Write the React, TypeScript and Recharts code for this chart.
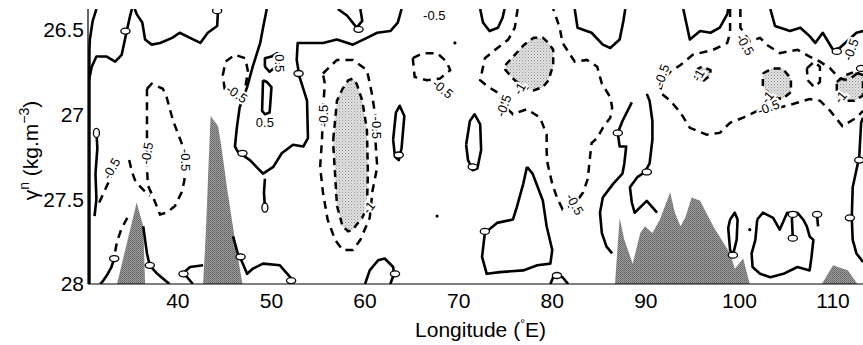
import { ComposedChart, XAxis, YAxis, Line, Area, Scatter } from "recharts";

type Pt = [number, number];
type Band = [number, number, number]; // lon, upper gamma, lower gamma
type Tag = [number, number, number]; // lon, gamma, angle

const lonTicks = [40, 50, 60, 70, 80, 90, 100, 110];
const gammaTicks = [26.5, 27, 27.5, 28];
const lonDomain: Pt = [30.4, 113.2];
const gammaDomain: Pt = [26.38, 28];

// zero contour (solid)
const zeroEdge: Pt[] = [[31.3, 26.38], [30.9, 26.45], [30.6, 26.56], [30.55, 26.62], [30.55, 28]];
const zeroA: Pt[] = [[30.5, 26.8], [30.8, 26.72], [31.3, 26.66], [32.4, 26.66], [33.3, 26.69], [34.0, 26.65], [34.5, 26.52], [34.9, 26.42], [35.1, 26.38]];
const zeroB: Pt[] = [[35.4, 26.38], [35.6, 26.41], [36.2, 26.46], [36.5, 26.56], [37.2, 26.59], [38.1, 26.58], [39.4, 26.55], [40.2, 26.52], [41.3, 26.55], [42.4, 26.58], [43.2, 26.52], [44.2, 26.48], [44.3, 26.38]];
const zeroC: Pt[] = [[49.5, 26.38], [49.1, 26.49], [48.8, 26.58], [48.0, 26.72], [47.4, 26.84], [46.6, 26.96], [46.3, 27.08], [46.1, 27.19], [46.4, 27.22], [46.9, 27.24], [47.7, 27.27], [49.1, 27.35], [50.2, 27.31], [51.1, 27.23], [52.3, 27.18], [53.4, 27.19], [53.9, 27.14], [53.8, 26.92], [53.0, 26.78], [52.7, 26.68], [52.8, 26.58], [54.1, 26.58], [55.5, 26.58], [57.0, 26.56], [58.7, 26.59], [60.2, 26.55], [61.3, 26.52], [62.7, 26.51], [63.5, 26.46], [63.9, 26.38]];
const zeroD: Pt[] = [[57.1, 26.38], [58.1, 26.42], [59.1, 26.49], [59.7, 26.45], [59.5, 26.38]];
const zeroE: Pt[] = [[49.3, 26.72], [49.3, 26.67], [50.0, 26.66], [50.6, 26.64], [50.9, 26.65], [50.7, 26.71], [49.8, 26.75], [49.3, 26.72]];
const zeroF: Pt[] = [[49.1, 26.8], [49.5, 26.81], [50.0, 26.84], [49.9, 26.92], [49.8, 26.99], [49.3, 27.0], [49.0, 26.98], [49.1, 26.8]];
const zeroG: Pt[] = [[49.3, 27.38], [49.2, 27.46], [49.3, 27.55]];
const zeroH: Pt[] = [[63.0, 27.15], [63.3, 26.99], [63.7, 26.95], [64.2, 27.01], [63.9, 27.2], [63.6, 27.27], [63.2, 27.25], [63.0, 27.15]];
const zeroI: Pt[] = [[70.8, 27.18], [71.2, 27.04], [71.7, 27.0], [72.3, 27.06], [72.4, 27.21], [72.0, 27.32], [71.5, 27.33], [71.0, 27.27], [70.8, 27.18]];
const zeroJ: Pt[] = [[72.3, 26.38], [72.6, 26.46], [73.3, 26.51], [74.2, 26.49], [74.7, 26.43], [74.9, 26.38]];
const zeroK: Pt[] = [[82.4, 26.38], [82.7, 26.49], [84.2, 26.52], [85.4, 26.59], [86.2, 26.61], [87.2, 26.56], [87.6, 26.45], [87.8, 26.38]];
const zeroL: Pt[] = [[88.5, 26.93], [87.5, 27.04], [87.0, 27.11], [87.2, 27.19], [87.9, 27.19], [87.7, 27.29], [87.5, 27.35], [86.5, 27.41], [85.4, 27.49], [85.1, 27.58], [85.3, 27.7], [85.8, 27.78], [86.4, 27.82]];
const zeroM: Pt[] = [[90.1, 26.88], [90.4, 26.92], [90.7, 27.04], [90.7, 27.15], [90.4, 27.29], [89.9, 27.34], [89.1, 27.37], [88.3, 27.43], [88.5, 27.52], [88.8, 27.58], [90.1, 27.51], [91.2, 27.58]];
const zeroN: Pt[] = [[94.0, 26.38], [94.7, 26.56], [95.8, 26.51], [96.9, 26.52], [97.9, 26.49], [98.7, 26.41], [98.8, 26.38]];
const zeroO: Pt[] = [[103.3, 26.38], [103.8, 26.48], [105.4, 26.51], [106.5, 26.49], [107.5, 26.54], [108.1, 26.58], [108.9, 26.52], [110.0, 26.62], [110.7, 26.61], [111.3, 26.58], [112.5, 26.52], [113.2, 26.51]];
const zeroP: Pt[] = [[113.2, 27.02], [113.0, 27.05], [112.8, 27.25], [112.1, 27.43], [112.0, 27.61], [112.1, 27.74], [112.5, 27.82], [113.2, 27.87]];
const zeroQ: Pt[] = [[77.3, 27.31], [77.9, 27.35], [79.0, 27.51], [79.4, 27.66], [80.0, 27.8], [79.8, 27.88], [78.4, 27.89], [76.9, 27.92], [74.4, 27.93], [73.0, 27.94], [72.5, 27.84], [72.8, 27.7], [74.1, 27.64], [75.8, 27.62], [76.2, 27.55], [76.9, 27.41], [77.3, 27.31]];
const zeroR: Pt[] = [[79.8, 28], [80.1, 27.96], [80.6, 27.95], [81.1, 27.96], [81.7, 28]];
const zeroS: Pt[] = [[60.0, 28], [60.5, 27.92], [61.4, 27.86], [62.1, 27.85], [63.0, 27.9], [63.1, 27.94], [62.7, 28]];
const zeroT: Pt[] = [[45.9, 27.72], [46.4, 27.82], [46.7, 27.85], [47.4, 27.94], [48.0, 27.91], [49.1, 27.88], [50.9, 27.89], [52.0, 27.96], [52.2, 28]];
const zeroU: Pt[] = [[36.3, 27.66], [36.7, 27.82], [37.0, 27.89], [37.8, 27.94], [39.1, 28]];
const zeroV: Pt[] = [[41.6, 28], [41.0, 27.96], [40.5, 27.94], [41.3, 27.9], [42.7, 27.89]];
const zeroW: Pt[] = [[33.2, 27.85], [32.9, 27.9], [32.4, 27.95], [31.9, 27.99], [31.7, 28]];
const zeroX: Pt[] = [[101.9, 27.62], [102.5, 27.58], [103.6, 27.61], [104.3, 27.68], [105.1, 27.58], [106.2, 27.58], [106.8, 27.62], [107.2, 27.66], [107.5, 27.72], [107.9, 27.74], [107.7, 27.84], [107.5, 27.92], [106.2, 27.9], [104.7, 27.94], [103.3, 27.96], [102.2, 27.94], [101.4, 27.9], [101.3, 27.82], [101.7, 27.74], [101.9, 27.62]];
const zeroY: Pt[] = [[99.0, 27.62], [99.5, 27.58], [99.8, 27.62], [99.7, 27.74], [99.3, 27.83], [99.0, 27.8], [98.8, 27.67], [99.0, 27.62]];
const zeroZ: Pt[] = [[105.6, 27.61], [105.7, 27.73]];
const zeroZ2: Pt[] = [[108.3, 27.6], [108.4, 27.66]];
const zeroZ3: Pt[] = [[31.3, 27.1], [31.4, 27.2], [31.2, 27.35], [31.3, 27.5], [31.1, 27.6]];

const zeroLines = [zeroEdge, zeroA, zeroB, zeroC, zeroD, zeroE, zeroF, zeroG, zeroH, zeroI, zeroJ, zeroK, zeroL, zeroM, zeroN, zeroO, zeroP, zeroQ, zeroR, zeroS, zeroT, zeroU, zeroV, zeroW, zeroX, zeroY, zeroZ, zeroZ2, zeroZ3];

// -0.5 contour (dashed)
const halfA: Pt[] = [[36.7, 26.85], [37.2, 26.82], [38.4, 26.85], [38.8, 26.9], [39.5, 27.04], [40.4, 27.17], [40.7, 27.25], [40.7, 27.39], [40.4, 27.46], [39.7, 27.54], [38.8, 27.58], [38.1, 27.59], [37.8, 27.55], [37.3, 27.48], [36.8, 27.42], [36.7, 27.31], [36.7, 27.21], [36.7, 27.11], [36.7, 26.92], [36.7, 26.85]];
const halfB: Pt[] = [[44.8, 26.77], [45.1, 26.69], [46.1, 26.65], [47.2, 26.67], [47.5, 26.75], [47.2, 26.84], [46.9, 26.91], [46.1, 26.87], [45.0, 26.85], [44.8, 26.77]];
const halfC: Pt[] = [[55.5, 26.76], [57.0, 26.68], [58.7, 26.68], [60.2, 26.74], [60.7, 26.87], [61.1, 27.01], [61.1, 27.15], [61.3, 27.31], [60.8, 27.45], [60.5, 27.61], [59.5, 27.74], [58.7, 27.8], [57.6, 27.8], [56.8, 27.74], [56.0, 27.62], [55.5, 27.46], [55.2, 27.31], [55.4, 27.15], [55.5, 26.98], [55.7, 26.82], [55.5, 26.76]];
const halfD: Pt[] = [[65.1, 26.67], [66.2, 26.64], [67.7, 26.64], [68.7, 26.69], [69.1, 26.74], [68.0, 26.79], [66.6, 26.8], [65.3, 26.78], [65.1, 26.67]];
const halfE: Pt[] = [[76.3, 26.38], [76.0, 26.49], [75.3, 26.56], [73.9, 26.62], [72.8, 26.67], [72.3, 26.8], [73.2, 26.84], [74.4, 26.88], [74.7, 26.94], [75.8, 27.0], [77.3, 26.97], [78.7, 27.02], [79.4, 27.12], [79.4, 27.22], [79.5, 27.29], [80.0, 27.41], [80.5, 27.49], [81.1, 27.56], [82.4, 27.53], [83.3, 27.46], [83.8, 27.38], [84.0, 27.27], [84.2, 27.17], [84.8, 27.14], [85.4, 27.08], [86.2, 27.02], [86.4, 26.96], [86.2, 26.9], [85.3, 26.82], [84.8, 26.72], [83.7, 26.68], [82.4, 26.69], [81.1, 26.58], [80.8, 26.49], [80.1, 26.38]];
const halfF: Pt[] = [[99.0, 26.38], [99.0, 26.52], [98.7, 26.58], [97.2, 26.62], [95.0, 26.65], [93.7, 26.71], [92.6, 26.75], [91.8, 26.8], [91.5, 26.87], [92.6, 26.92], [93.7, 26.99], [94.7, 27.08], [96.5, 27.12], [97.9, 27.11], [99.0, 27.05], [100.4, 27.02], [101.9, 26.98], [104.3, 26.96], [105.7, 26.94], [107.5, 26.91], [108.6, 26.92], [109.7, 26.98], [111.0, 27.07], [112.5, 27.02], [113.2, 26.98]];
const halfG: Pt[] = [[100.1, 26.38], [100.1, 26.49], [101.1, 26.57], [102.2, 26.55], [102.9, 26.59], [104.3, 26.64], [106.2, 26.62], [107.5, 26.66], [108.6, 26.69], [109.7, 26.73], [110.7, 26.79], [111.6, 26.8], [112.8, 26.75], [113.2, 26.72]];
const halfH: Pt[] = [[31.6, 27.52], [32.1, 27.46], [32.6, 27.4], [32.9, 27.36]];
const halfI: Pt[] = [[34.8, 27.27], [35.1, 27.34], [35.5, 27.4], [36.4, 27.45], [37.0, 27.48]];
const halfJ: Pt[] = [[34.6, 27.61], [34.0, 27.67], [33.5, 27.75], [33.2, 27.84]];
const halfK: Pt[] = [[107.2, 26.73], [108.0, 26.69], [108.6, 26.72], [108.6, 26.81], [108.0, 26.84], [107.3, 26.8], [107.2, 26.73]];

const halfLines = [halfA, halfB, halfC, halfD, halfE, halfF, halfG, halfH, halfI, halfJ, halfK];

// -1 patches (stippled), upper and lower edge per longitude
const lowA: Band[] = [[56.6, 27.15, 27.18], [57.0, 26.92, 27.54], [57.6, 26.85, 27.66], [58.2, 26.8, 27.69], [58.7, 26.79, 27.68], [59.1, 26.82, 27.65], [59.7, 26.92, 27.61], [60.2, 27.09, 27.55], [60.3, 27.33, 27.36]];
const lowB: Band[] = [[75.0, 26.71, 26.74], [76.0, 26.65, 26.8], [77.0, 26.59, 26.84], [78.0, 26.55, 26.86], [79.0, 26.55, 26.84], [79.6, 26.58, 26.8], [80.1, 26.62, 26.71]];
const lowC: Band[] = [[95.3, 26.74, 26.78], [96.0, 26.72, 26.81], [96.9, 26.74, 26.77]];
const lowD: Band[] = [[102.5, 26.76, 26.84], [103.5, 26.73, 26.9], [104.6, 26.73, 26.91], [105.5, 26.79, 26.87]];
const lowE: Band[] = [[110.4, 26.81, 26.89], [111.3, 26.77, 26.92], [112.3, 26.75, 26.92], [113.2, 26.77, 26.89]];

const lowPatches = [lowA, lowB, lowC, lowD, lowE];

// sea floor (dark fill down to 28)
const floorA: Pt[] = [[33.5, 28], [35.6, 27.52], [36.3, 27.66], [36.5, 28]];
const floorB: Pt[] = [[42.7, 28], [43.0, 27.68], [43.3, 27.27], [43.5, 27.01], [44.3, 27.07], [44.7, 27.21], [45.3, 27.45], [46.1, 27.74], [46.9, 28]];
const floorC: Pt[] = [[86.7, 28], [87.2, 27.61], [87.7, 27.74], [88.6, 27.88], [89.4, 27.7], [89.9, 27.66], [90.7, 27.7], [91.5, 27.62], [92.6, 27.46], [93.1, 27.58], [93.7, 27.66], [94.2, 27.61], [94.9, 27.49], [95.8, 27.51], [97.2, 27.66], [99.0, 27.82], [99.5, 27.91], [100.4, 27.85], [101.1, 28]];
const floorD: Pt[] = [[108.8, 28], [110.0, 27.89], [111.6, 27.92], [112.6, 28]];

const floors = [floorA, floorB, floorC, floorD];

// "0" contour markers
const zeroMarks: Pt[] = [[34.4, 26.51], [44.2, 26.39], [46.9, 27.23], [52.9, 26.76], [59.3, 26.5], [63.6, 27.24], [71.5, 27.31], [87.0, 27.11], [90.1, 27.34], [110.4, 26.63], [112.8, 27.27], [111.8, 27.61], [72.8, 27.69], [80.5, 27.95], [63.2, 27.94], [46.7, 27.84], [52.1, 27.98], [37.0, 27.89], [40.6, 27.94], [33.2, 27.85], [99.3, 27.83], [105.7, 27.59], [105.7, 27.73], [108.3, 27.59], [113.0, 26.73]];
const zeroMarksTall: Pt[] = [[49.3, 27.55], [31.3, 27.11]];

const specks: Pt[] = [[69.6, 26.58], [67.7, 27.6], [101.1, 27.68]];

const halfTags: Tag[] = [[40.8, 27.27, 90], [36.7, 27.23, -80], [32.9, 27.32, -60], [46.3, 26.88, 35], [55.6, 27.01, -90], [61.2, 27.08, 90], [68.3, 26.85, 40], [67.4, 26.42, 0], [74.8, 26.95, -70], [82.4, 27.53, 60], [91.7, 26.77, -70], [103.1, 26.96, -20], [100.6, 26.59, 60], [111.9, 26.62, -70]];
const oneTags: Tag[] = [[60.4, 27.55, -50], [76.5, 26.85, -60], [95.6, 26.77, -60], [103.0, 26.9, -50], [110.8, 26.9, -50]];
const plusTags: Tag[] = [[50.9, 26.7, 90], [49.3, 27.05, 0]];

const font = "'Liberation Sans', Arial, sans-serif";

const toXY = (pts: Pt[]) => pts.map(([x, y]) => ({ x, y }));
const ring = (band: Band[]): Pt[] => {
  const top = band.map(([x, t]) => [x, t] as Pt);
  const bottom = band.map(([x, , b]) => [x, b] as Pt).reverse();
  return [...top, ...bottom, top[0]];
};
const tagData = (tags: Tag[], text: string) =>
  tags.map(([x, y, angle]) => ({ x, y, angle, text }));

const TagShape = (p: any) => (
  <text
    x={p.cx}
    y={p.cy}
    transform={`rotate(${p.payload.angle} ${p.cx} ${p.cy})`}
    textAnchor="middle"
    dominantBaseline="central"
    fontSize={13}
    fontFamily={font}
    fill="#000"
    stroke="#fff"
    strokeWidth={4}
    paintOrder="stroke"
  >
    {p.payload.text}
  </text>
);

const Oval = (p: any) => (
  <ellipse cx={p.cx} cy={p.cy} rx={4.6} ry={3} fill="#fff" stroke="#000" strokeWidth={1.3} />
);
const TallOval = (p: any) => (
  <ellipse cx={p.cx} cy={p.cy} rx={3} ry={4.6} fill="#fff" stroke="#000" strokeWidth={1.3} />
);
const Speck = (p: any) => <circle cx={p.cx} cy={p.cy} r={1.6} fill="#000" />;

const XTitle = ({ viewBox }: any) => (
  <text x={viewBox.x + viewBox.width / 2 + 5} y={viewBox.y + 53} textAnchor="middle" fontSize={21} fontFamily={font} fill="#000">
    Longitude (<tspan dy={-9} fontSize={12}>°</tspan>
    <tspan dy={9}>E)</tspan>
  </text>
);

const YTitle = ({ viewBox }: any) => {
  const cx = 38;
  const cy = viewBox.y + viewBox.height / 2 + 4;
  return (
    <text x={cx} y={cy} transform={`rotate(-90 ${cx} ${cy})`} textAnchor="middle" fontSize={21} fontFamily={font} fill="#000">
      γ<tspan dy={-9} fontSize={14}>n</tspan>
      <tspan dy={9}> (kg.m</tspan>
      <tspan dy={-9} fontSize={14}>−3</tspan>
      <tspan dy={9}>)</tspan>
    </text>
  );
};

const tickStyle = { fontSize: 21, fontFamily: font, fill: "#000" };

export default function App() {
  return (
    <div style={{ position: "absolute", left: 0, top: 0, width: 863, height: 345, background: "#fff" }}>
      <ComposedChart width={863} height={345} margin={{ top: 9, right: 0, bottom: 0, left: 0 }}>
        <defs>
          <pattern id="floorFill" width={2} height={2} patternUnits="userSpaceOnUse">
            <rect width={2} height={2} fill="#9c9c9c" />
            <rect width={1} height={1} fill="#626262" />
            <rect x={1} y={1} width={1} height={1} fill="#767676" />
          </pattern>
          <pattern id="lowFill" width={3} height={3} patternUnits="userSpaceOnUse">
            <rect width={3} height={3} fill="#e2e2e2" />
            <rect width={1} height={1} fill="#939393" />
            <rect x={1.5} y={1.5} width={1} height={1} fill="#aaaaaa" />
          </pattern>
        </defs>
        <XAxis
          type="number"
          dataKey="x"
          domain={lonDomain}
          ticks={lonTicks}
          allowDataOverflow
          height={61}
          tickLine={false}
          tickSize={6}
          tickMargin={3}
          tick={tickStyle}
          axisLine={{ stroke: "#000", strokeWidth: 1.2 }}
          label={{ content: XTitle }}
        />
        <XAxis
          xAxisId="top"
          orientation="top"
          type="number"
          dataKey="x"
          domain={lonDomain}
          allowDataOverflow
          height={0}
          tick={false}
          tickLine={false}
          axisLine={{ stroke: "#000", strokeWidth: 1.2 }}
        />
        <YAxis
          type="number"
          dataKey="y"
          domain={gammaDomain}
          ticks={gammaTicks}
          reversed
          allowDataOverflow
          width={88}
          tickLine={false}
          tickSize={2}
          tickMargin={2}
          tick={tickStyle}
          tickFormatter={(v: number) => String(v)}
          axisLine={{ stroke: "#000", strokeWidth: 1.2 }}
          label={{ content: YTitle }}
        />

        {floors.map((f, i) => (
          <Area
            key={`floor-${i}`}
            data={f.map(([x, y]) => ({ x, y: [y, 28] }))}
            dataKey="y"
            type="linear"
            stroke="none"
            fill="url(#floorFill)"
            fillOpacity={1}
            isAnimationActive={false}
          />
        ))}

        {lowPatches.map((b, i) => (
          <Area
            key={`low-${i}`}
            data={b.map(([x, t, bt]) => ({ x, y: [t, bt] }))}
            dataKey="y"
            type="linear"
            stroke="none"
            fill="url(#lowFill)"
            fillOpacity={1}
            isAnimationActive={false}
          />
        ))}

        {lowPatches.map((b, i) => (
          <Line
            key={`one-${i}`}
            data={toXY(ring(b))}
            dataKey="y"
            type="linear"
            stroke="#000"
            strokeWidth={2.5}
            strokeDasharray="7 5"
            dot={false}
            isAnimationActive={false}
          />
        ))}

        {halfLines.map((pts, i) => (
          <Line
            key={`half-${i}`}
            data={toXY(pts)}
            dataKey="y"
            type="linear"
            stroke="#000"
            strokeWidth={2.5}
            strokeDasharray="8 6"
            dot={false}
            isAnimationActive={false}
          />
        ))}

        {zeroLines.map((pts, i) => (
          <Line
            key={`zero-${i}`}
            data={toXY(pts)}
            dataKey="y"
            type="linear"
            stroke="#000"
            strokeWidth={2.6}
            strokeLinejoin="round"
            dot={false}
            isAnimationActive={false}
          />
        ))}

        <Scatter data={toXY(specks)} dataKey="y" shape={Speck} isAnimationActive={false} />
        <Scatter data={toXY(zeroMarks)} dataKey="y" shape={Oval} isAnimationActive={false} />
        <Scatter data={toXY(zeroMarksTall)} dataKey="y" shape={TallOval} isAnimationActive={false} />
        <Scatter data={tagData(halfTags, "-0.5")} dataKey="y" shape={TagShape} isAnimationActive={false} />
        <Scatter data={tagData(oneTags, "-1")} dataKey="y" shape={TagShape} isAnimationActive={false} />
        <Scatter data={tagData(plusTags, "0.5")} dataKey="y" shape={TagShape} isAnimationActive={false} />
      </ComposedChart>
    </div>
  );
}
